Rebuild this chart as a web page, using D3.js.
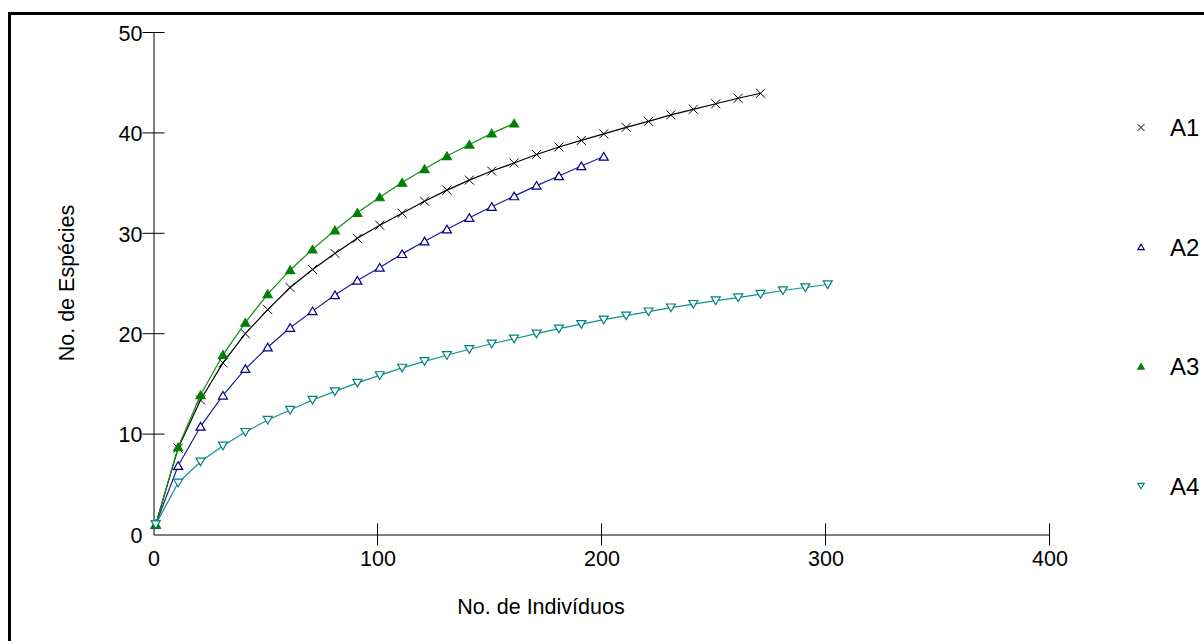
<!DOCTYPE html>
<html>
<head>
<meta charset="utf-8">
<script src="https://cdn.jsdelivr.net/npm/d3@7"></script>
<style>
  html, body { margin: 0; padding: 0; background: #fff; }
  svg { display: block; font-family: Arial, "Liberation Sans", sans-serif; }
</style>
</head>
<body>
<svg id="chart" width="1204" height="641"></svg>
<script>
// ── Data ──────────────────────────────────────────────────────────────────────
const sampleN = [1, 11, 21, 31, 41, 51, 61, 71, 81, 91, 101, 111, 121, 131, 141, 151,
  161, 171, 181, 191, 201, 211, 221, 231, 241, 251, 261, 271, 281, 291, 301];

const a1 = [1, 8.6, 13.4, 17.1, 20.0, 22.4, 24.6, 26.4, 28.0, 29.5, 30.8, 32.0, 33.2, 34.3,
  35.3, 36.2, 37.0, 37.85, 38.6, 39.25, 39.9, 40.55, 41.15, 41.8, 42.35, 42.9, 43.45, 43.95];
const a2 = [1, 6.85, 10.75, 13.85, 16.5, 18.65, 20.6, 22.25, 23.85, 25.3, 26.6, 27.95, 29.2,
  30.4, 31.55, 32.65, 33.7, 34.75, 35.7, 36.7, 37.65];
const a3 = [1, 8.7, 13.9, 17.9, 21.1, 23.95, 26.35, 28.4, 30.3, 32.05, 33.6, 35.05, 36.4,
  37.7, 38.85, 39.95, 40.95];
const a4 = [1, 5.15, 7.25, 8.85, 10.2, 11.4, 12.4, 13.4, 14.25, 15.1, 15.85, 16.6, 17.25,
  17.85, 18.45, 19.0, 19.5, 20.0, 20.5, 20.95, 21.4, 21.8, 22.2, 22.6, 22.95, 23.3, 23.6,
  23.95, 24.3, 24.6, 24.9];

const seriesNames = ['A1', 'A2', 'A3', 'A4'];
const xTicks = [0, 100, 200, 300, 400];
const yTicks = [0, 10, 20, 30, 40, 50];

// ── Styles ────────────────────────────────────────────────────────────────────
const CLR = { A1: '#000000', A2: '#000080', A3: '#008000', A4: '#008080' };
const LINE = { A1: '#000000', A2: '#1a1aa0', A3: '#109010', A4: '#109090' };

const svg = d3.select('#chart');

// outer frame
svg.append('rect')
  .attr('x', 9.5).attr('y', 13.5).attr('width', 1300).attr('height', 700)
  .attr('fill', 'none').attr('stroke', '#000').attr('stroke-width', 3);

const x = d3.scaleLinear().domain([0, 400]).range([153.5, 1049.5]);
const y = d3.scaleLinear().domain([0, 50]).range([534.5, 32.5]);

// axes
const gx = svg.append('g').attr('transform', `translate(0,${y(0)})`)
  .call(d3.axisBottom(x).tickValues(xTicks).tickSize(0).tickPadding(16));
const gy = svg.append('g').attr('transform', `translate(${x(0)},0)`)
  .call(d3.axisLeft(y).tickValues(yTicks).tickSize(0).tickPadding(11));

[gx, gy].forEach(g => {
  g.select('.domain').attr('stroke', '#000').attr('stroke-width', 1);
  g.selectAll('text').attr('font-size', 21.5).attr('fill', '#000')
    .attr('font-family', 'Arial, "Liberation Sans", sans-serif');
});
gy.selectAll('text').attr('dy', '0.36em');
gx.selectAll('text').attr('dy', '0.7em');

// crossing ticks (skip 0)
svg.append('g').selectAll('line').data(xTicks.filter(d => d > 0)).join('line')
  .attr('x1', d => x(d)).attr('x2', d => x(d))
  .attr('y1', y(0) - 11).attr('y2', y(0) + 11)
  .attr('stroke', '#000').attr('stroke-width', 1);
svg.append('g').selectAll('line').data(yTicks.filter(d => d > 0)).join('line')
  .attr('x1', x(0) - 11).attr('x2', x(0) + 11)
  .attr('y1', d => y(d)).attr('y2', d => y(d))
  .attr('stroke', '#000').attr('stroke-width', 1);

// titles
svg.append('text')
  .attr('x', 541).attr('y', 606).attr('dy', '0.36em')
  .attr('text-anchor', 'middle').attr('font-size', 21.5)
  .text('No. de Indivíduos');
svg.append('text')
  .attr('transform', 'translate(66,283) rotate(-90)').attr('dy', '0.36em')
  .attr('text-anchor', 'middle').attr('font-size', 21.5)
  .text('No. de Espécies');

// ── Series ────────────────────────────────────────────────────────────────────
const data = { A1: a1, A2: a2, A3: a3, A4: a4 };
const line = d3.line().x(d => x(d[0])).y(d => y(d[1]));

function marker(g, name, cx, cy, s) {
  const c = CLR[name];
  if (name === 'A1') {
    g.append('path')
      .attr('d', `M${cx - s},${cy - s}L${cx + s},${cy + s}M${cx - s},${cy + s}L${cx + s},${cy - s}`)
      .attr('stroke', c).attr('stroke-width', 1).attr('fill', 'none');
  } else if (name === 'A4') {
    g.append('path')
      .attr('d', `M${cx - s},${cy - s * 0.8}L${cx + s},${cy - s * 0.8}L${cx},${cy + s * 0.9}Z`)
      .attr('stroke', c).attr('stroke-width', 1.2).attr('fill', '#fff');
  } else {
    g.append('path')
      .attr('d', `M${cx - s},${cy + s * 0.8}L${cx + s},${cy + s * 0.8}L${cx},${cy - s * 0.9}Z`)
      .attr('stroke', c).attr('stroke-width', 1.2)
      .attr('fill', name === 'A3' ? c : '#fff');
  }
}

seriesNames.forEach(name => {
  const pts = data[name].map((v, i) => [sampleN[i], v]);
  const g = svg.append('g');
  g.append('path').datum(pts).attr('d', line)
    .attr('fill', 'none').attr('stroke', LINE[name]).attr('stroke-width', 1.2);
  pts.forEach(p => marker(g, name, x(p[0]), y(p[1]), 4.5));
});

// ── Legend ────────────────────────────────────────────────────────────────────
const legY = d3.scalePoint().domain(seriesNames).range([127.5, 486]);
seriesNames.forEach(name => {
  const g = svg.append('g');
  marker(g, name, 1141, legY(name), name === 'A1' ? 3.5 : 3.2);
  g.append('text').attr('x', 1170).attr('y', legY(name)).attr('dy', '0.36em')
    .attr('font-size', 24).text(name);
});
</script>
</body>
</html>
